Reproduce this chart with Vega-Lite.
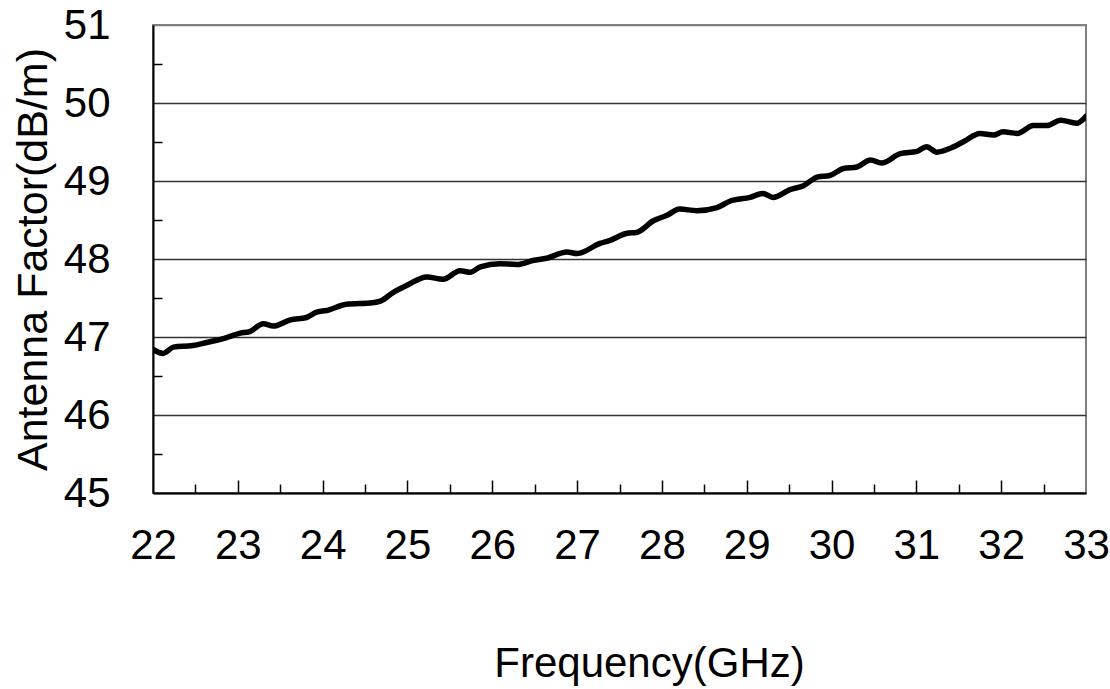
{
  "$schema": "https://vega.github.io/schema/vega-lite/v6.json",
  "width": 933,
  "height": 468,
  "autosize": {"type": "none"},
  "padding": {"left": 153, "top": 25, "right": 24, "bottom": 196},
  "background": "#ffffff",
  "config": {
    "font": "Liberation Sans",
    "view": {"stroke": "#808080", "strokeWidth": 2}
  },
  "data": {
    "values": [
      {"f": 22.00, "v": 46.84}, {"f": 22.12, "v": 46.79}, {"f": 22.24, "v": 46.87}, {"f": 22.47, "v": 46.89},
      {"f": 22.63, "v": 46.93}, {"f": 22.83, "v": 46.98}, {"f": 23.03, "v": 47.05}, {"f": 23.14, "v": 47.07},
      {"f": 23.30, "v": 47.17}, {"f": 23.42, "v": 47.14}, {"f": 23.62, "v": 47.22}, {"f": 23.81, "v": 47.25},
      {"f": 23.93, "v": 47.32}, {"f": 24.05, "v": 47.34}, {"f": 24.28, "v": 47.42}, {"f": 24.59, "v": 47.44},
      {"f": 24.68, "v": 47.46}, {"f": 24.83, "v": 47.57}, {"f": 24.99, "v": 47.66}, {"f": 25.23, "v": 47.77},
      {"f": 25.42, "v": 47.74}, {"f": 25.62, "v": 47.85}, {"f": 25.74, "v": 47.83}, {"f": 25.86, "v": 47.90},
      {"f": 26.09, "v": 47.94}, {"f": 26.29, "v": 47.93}, {"f": 26.48, "v": 47.98}, {"f": 26.64, "v": 48.01},
      {"f": 26.88, "v": 48.09}, {"f": 27.00, "v": 48.07}, {"f": 27.27, "v": 48.20}, {"f": 27.39, "v": 48.24},
      {"f": 27.59, "v": 48.33}, {"f": 27.70, "v": 48.34}, {"f": 27.90, "v": 48.49}, {"f": 28.06, "v": 48.56},
      {"f": 28.21, "v": 48.64}, {"f": 28.41, "v": 48.62}, {"f": 28.65, "v": 48.66}, {"f": 28.80, "v": 48.74},
      {"f": 29.04, "v": 48.79}, {"f": 29.19, "v": 48.84}, {"f": 29.31, "v": 48.79}, {"f": 29.51, "v": 48.89},
      {"f": 29.67, "v": 48.94}, {"f": 29.83, "v": 49.05}, {"f": 29.98, "v": 49.07}, {"f": 30.14, "v": 49.16},
      {"f": 30.30, "v": 49.18}, {"f": 30.46, "v": 49.27}, {"f": 30.59, "v": 49.23}, {"f": 30.81, "v": 49.35},
      {"f": 31.01, "v": 49.38}, {"f": 31.12, "v": 49.44}, {"f": 31.24, "v": 49.37}, {"f": 31.40, "v": 49.42},
      {"f": 31.55, "v": 49.50}, {"f": 31.75, "v": 49.61}, {"f": 31.91, "v": 49.59}, {"f": 32.02, "v": 49.63},
      {"f": 32.19, "v": 49.61}, {"f": 32.38, "v": 49.71}, {"f": 32.54, "v": 49.71}, {"f": 32.70, "v": 49.78},
      {"f": 32.89, "v": 49.74}, {"f": 33.00, "v": 49.83}
    ]
  },
  "layer": [
    {
      "mark": {"type": "line", "color": "#000000", "strokeWidth": 5.5, "interpolate": "monotone", "strokeJoin": "round", "strokeCap": "round", "clip": true},
      "encoding": {
        "x": {
          "field": "f", "type": "quantitative",
          "scale": {"domain": [22, 33], "nice": false, "zero": false},
          "axis": {
            "orient": "bottom",
            "values": [22, 23, 24, 25, 26, 27, 28, 29, 30, 31, 32, 33],
            "ticks": false, "grid": false,
            "domain": true, "domainColor": "#000000", "domainWidth": 2,
            "labelFontSize": 42, "labelColor": "#000000", "labelPadding": 32, "labelDx": -6,
            "labelFlush": false, "labelOverlap": false,
            "title": "Frequency(GHz)", "titleFontSize": 42, "titleFontWeight": "normal", "titleColor": "#000000",
            "titlePadding": 77, "titleX": 496
          }
        },
        "y": {
          "field": "v", "type": "quantitative",
          "scale": {"domain": [45, 51], "nice": false, "zero": false},
          "axis": {
            "orient": "left",
            "values": [45, 46, 47, 48, 49, 50, 51],
            "ticks": false,
            "grid": true,
            "gridColor": {"condition": {"test": "datum.value == 51", "value": "#808080"}, "value": "#333333"},
            "gridWidth": 1.3,
            "domain": true, "domainColor": "#000000", "domainWidth": 2,
            "labelFontSize": 42, "labelColor": "#000000", "labelPadding": 43, "labelFlush": false, "labelOverlap": false,
            "title": "Antenna Factor(dB/m)", "titleFontSize": 43, "titleFontWeight": "normal", "titleColor": "#000000",
            "titlePadding": 8
          }
        }
      }
    },
    {
      "mark": {"type": "line", "opacity": 0},
      "encoding": {
        "x": {
          "field": "f", "type": "quantitative",
          "axis": {
            "orient": "bottom",
            "values": [22.5, 23.5, 24.5, 25.5, 26.5, 27.5, 28.5, 29.5, 30.5, 31.5, 32.5],
            "ticks": true, "tickSize": -9, "tickColor": "#000000", "tickWidth": 1.5,
            "labels": false, "domain": false, "grid": false, "title": null
          }
        },
        "y": {
          "field": "v", "type": "quantitative",
          "axis": {
            "orient": "left",
            "values": [45.5, 46.5, 47.5, 48.5, 49.5, 50.5],
            "ticks": true, "tickSize": -9, "tickColor": "#000000", "tickWidth": 1.5,
            "labels": false, "domain": false, "grid": false, "title": null
          }
        }
      }
    },
    {
      "mark": {"type": "line", "opacity": 0},
      "encoding": {
        "x": {
          "field": "f", "type": "quantitative",
          "axis": {
            "orient": "bottom",
            "values": [23, 24, 25, 26, 27, 28, 29, 30, 31, 32],
            "ticks": true, "tickSize": -13, "tickColor": "#000000", "tickWidth": 1.5,
            "labels": false, "domain": false, "grid": false, "title": null
          }
        },
        "y": {"field": "v", "type": "quantitative", "axis": null}
      }
    }
  ],
  "resolve": {"axis": {"x": "independent", "y": "independent"}}
}
